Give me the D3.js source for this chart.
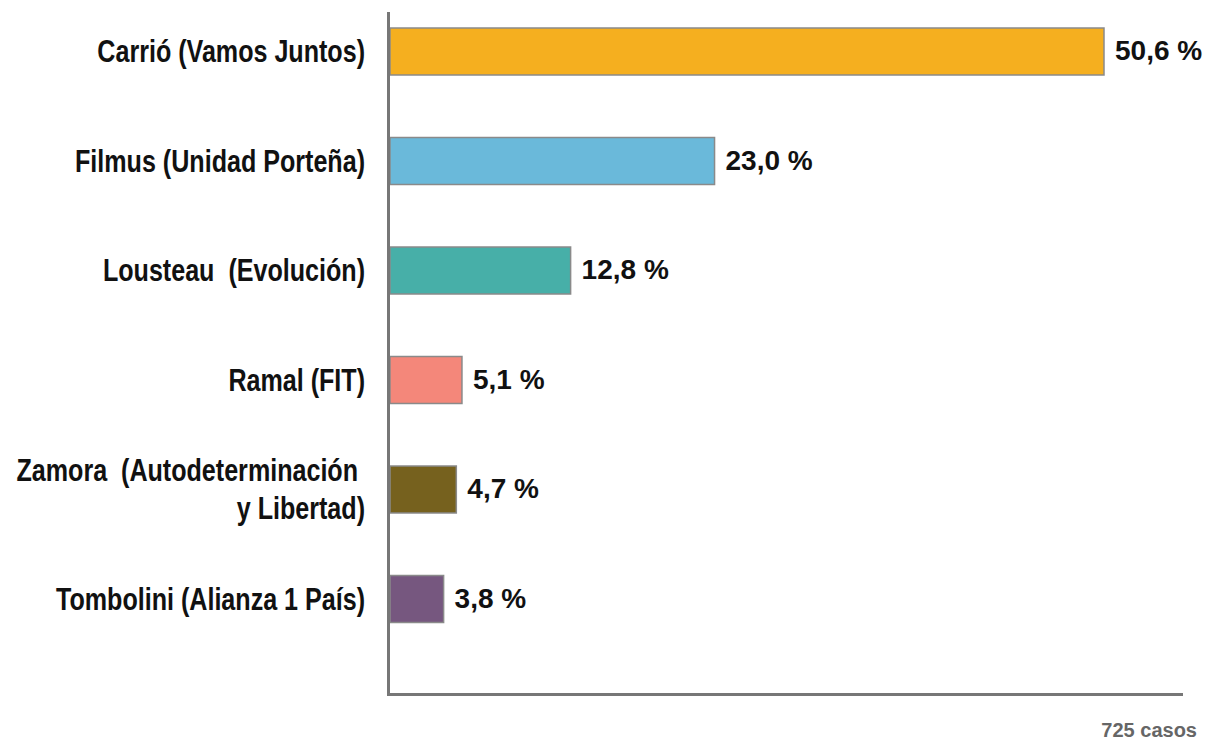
<!DOCTYPE html>
<html>
<head>
<meta charset="utf-8">
<script src="https://cdn.jsdelivr.net/npm/d3@7"></script>
<style>
	body { margin: 0; background: #fff; }
	text { font-family: "Liberation Sans", Arial, sans-serif; font-weight: bold; }
</style>
</head>
<body>
<script>
// Data
const candidates = [
	"Carrió (Vamos Juntos)",
	"Filmus (Unidad Porteña)",
	"Lousteau  (Evolución)",
	"Ramal (FIT)",
	"Zamora  (Autodeterminación |y Libertad)",
	"Tombolini (Alianza 1 País)"
];
const shares = [50.6, 23.0, 12.8, 5.1, 4.7, 3.8];
const barColors = ["#F5AF1F", "#6AB9DA", "#47AFA8", "#F4877A", "#76611E", "#76577F"];
const footnote = "725 casos";

const data = candidates.map((d, i) => ({ name: d, value: shares[i], color: barColors[i] }));

// Dimensions
const width = 1206;
const height = 742;
const axisX = 388.5;
const axisBottom = 694.5;
const barHeight = 47;

const svg = d3.select("body")
	.append("svg")
	.attr("width", width)
	.attr("height", height);

// Scales
const x = d3.scaleLinear()
	.domain([0, 50.6])
	.range([390, 1104]);

const y = d3.scalePoint()
	.domain(candidates)
	.range([51.5, 599]);

// Bars
svg.append("g")
	.selectAll("rect")
	.data(data)
	.join("rect")
	.attr("x", x(0))
	.attr("y", d => y(d.name) - barHeight / 2)
	.attr("width", d => x(d.value) - x(0))
	.attr("height", barHeight)
	.attr("fill", d => d.color)
	.attr("stroke", "#8a8a8a")
	.attr("stroke-width", 1.5);

// Value labels
svg.append("g")
	.selectAll("text")
	.data(data)
	.join("text")
	.attr("x", d => x(d.value) + 11)
	.attr("y", d => y(d.name) - 1)
	.attr("dy", "0.35em")
	.attr("font-size", 28)
	.attr("fill", "#111")
	.text(d => d.value.toFixed(1).replace(".", ",") + " %");

// Category labels (condensed look by squeezing horizontally)
const labels = svg.append("g")
	.selectAll("g")
	.data(data)
	.join("g")
	.attr("transform", d => `translate(365, ${y(d.name)}) scale(0.81, 1)`);

labels.each(function (d) {
	const lines = d.name.split("|");
	const lineGap = 38;
	const t = d3.select(this).append("text")
		.attr("text-anchor", "end")
		.attr("font-size", 31)
		.attr("fill", "#111")
		.style("white-space", "pre");
	lines.forEach((line, i) => {
		t.append("tspan")
			.attr("x", 0)
			.attr("y", (i - (lines.length - 1) / 2) * lineGap)
			.attr("dy", "0.35em")
			.text(line);
	});
});

// Axis lines
svg.append("line")
	.attr("x1", axisX).attr("x2", axisX)
	.attr("y1", 12).attr("y2", axisBottom + 1.5)
	.attr("stroke", "#777")
	.attr("stroke-width", 3);

svg.append("line")
	.attr("x1", axisX - 1.5).attr("x2", 1183)
	.attr("y1", axisBottom).attr("y2", axisBottom)
	.attr("stroke", "#777")
	.attr("stroke-width", 3);

// Footnote
svg.append("text")
	.attr("x", 1197)
	.attr("y", 737)
	.attr("text-anchor", "end")
	.attr("font-size", 20)
	.attr("fill", "#666")
	.text(footnote);
</script>
</body>
</html>
